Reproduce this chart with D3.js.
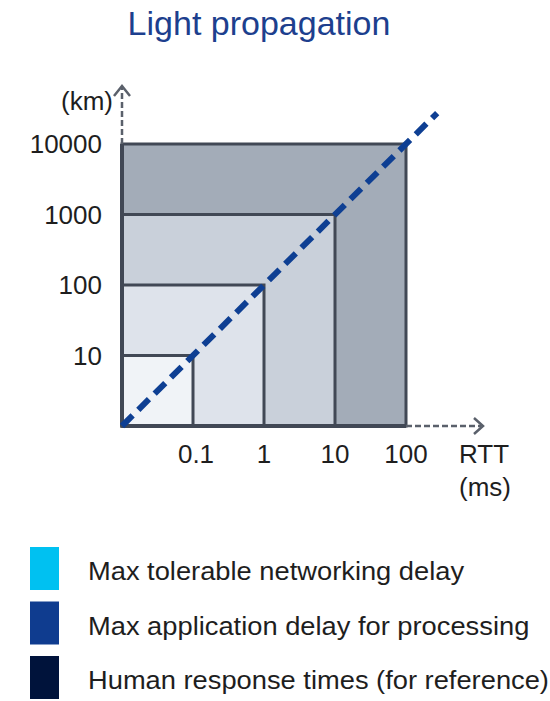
<!DOCTYPE html>
<html><head><meta charset="utf-8">
<script src="https://cdn.jsdelivr.net/npm/d3@7"></script>
<style>
html,body{margin:0;padding:0;background:#fff;}
svg{display:block;font-family:"Liberation Sans",Arial,sans-serif;}
</style></head>
<body>
<svg id="chart" width="550" height="701"></svg>
<script>
// ---- data ----
const title = "Light propagation";
const rttTicks = [0.1, 1, 10, 100];            // ms
const rttTickLabels = ["0.1", "1", "10", "100"];
const distTicks = [10, 100, 1000, 10000];     // km
const distTickLabels = ["10", "100", "1000", "10000"];
const zoneRtt = [100, 10, 1, 0.1];             // nested zones, largest first
const zoneDist = [10000, 1000, 100, 10];
const zoneFills = ["#a3acb8", "#c9d0da", "#dee3eb", "#f0f3f7"];
const lightLine = [[0.01, 1], [275, 27500]];   // distance ~ RTT (light in fibre)
const legendLabels = ["Max tolerable networking delay", "Max application delay for processing", "Human response times (for reference)"];
const legendColors = ["#00c1f1", "#0f3c8f", "#00133b"];

const svg = d3.select("#chart");
const x = d3.scaleLog().domain([0.01, 100]).range([122, 406]);
const y = d3.scaleLog().domain([1, 10000]).range([426, 144]);

// title
svg.append("text").attr("x", 259).attr("y", 35).attr("text-anchor", "middle")
  .attr("font-size", 34).attr("fill", "#1d3f8e").text(title);

// zones
svg.append("g").selectAll("rect").data(zoneRtt).join("rect")
  .attr("x", x(0.01)).attr("y", (d, i) => y(zoneDist[i]))
  .attr("width", d => x(d) - x(0.01))
  .attr("height", (d, i) => y(1) - y(zoneDist[i]))
  .attr("fill", (d, i) => zoneFills[i])
  .attr("stroke", "#414855").attr("stroke-width", 3);

// axis extensions (dashed) with arrows
const axisCol = "#5a606b";
svg.append("line").attr("x1", x(0.01)).attr("x2", x(0.01))
  .attr("y1", y(10000)).attr("y2", 88)
  .attr("stroke", axisCol).attr("stroke-width", 2.5).attr("stroke-dasharray", "6,3");
svg.append("path").attr("d", `M${x(0.01)-8},96 L${x(0.01)},86 L${x(0.01)+8},96`)
  .attr("fill", "none").attr("stroke", axisCol).attr("stroke-width", 2.5);
svg.append("line").attr("x1", x(100)).attr("x2", 481)
  .attr("y1", y(1)).attr("y2", y(1))
  .attr("stroke", axisCol).attr("stroke-width", 2.5).attr("stroke-dasharray", "6,3");
svg.append("path").attr("d", `M474,${y(1)-8} L483,${y(1)} L474,${y(1)+8}`)
  .attr("fill", "none").attr("stroke", axisCol).attr("stroke-width", 2.5);
// solid axis lines
svg.append("line").attr("x1", x(0.01)).attr("x2", x(100)).attr("y1", y(1)).attr("y2", y(1))
  .attr("stroke", "#414855").attr("stroke-width", 4);
svg.append("line").attr("x1", x(0.01)).attr("x2", x(0.01)).attr("y1", y(1)).attr("y2", y(10000))
  .attr("stroke", "#414855").attr("stroke-width", 4);

// light line
svg.append("path").datum(lightLine)
  .attr("d", d3.line().x(d => x(d[0])).y(d => y(d[1])))
  .attr("fill", "none").attr("stroke", "#0e3f93").attr("stroke-width", 6)
  .attr("stroke-dasharray", "15,8");

// tick labels
const tcol = "#1e1e1e";
svg.append("g").selectAll("text").data(rttTicks).join("text")
  .attr("x", (d, i) => x(d) + (i === 0 ? 3 : 0)).attr("y", 463).attr("text-anchor", "middle")
  .attr("font-size", 26).attr("fill", tcol).text((d, i) => rttTickLabels[i]);
svg.append("g").selectAll("text").data(distTicks).join("text")
  .attr("x", 102).attr("y", d => y(d) + 9).attr("text-anchor", "end")
  .attr("font-size", 26).attr("fill", tcol).text((d, i) => distTickLabels[i]);

// axis titles
svg.append("text").attr("x", 459).attr("y", 463).attr("font-size", 26).attr("fill", tcol).text("RTT");
svg.append("text").attr("x", 459).attr("y", 496).attr("font-size", 26).attr("fill", tcol).text("(ms)");
svg.append("text").attr("x", 113).attr("y", 110).attr("text-anchor", "end").attr("font-size", 26).attr("fill", tcol).text("(km)");

// legend
const lg = svg.append("g").selectAll("g").data(legendLabels).join("g")
  .attr("transform", (d, i) => `translate(30,${547 + i * 54.5})`);
lg.append("rect").attr("width", 29).attr("height", 43).attr("fill", (d, i) => legendColors[i]);
lg.append("text").attr("transform", "translate(58,33) scale(1.05,1)")
  .attr("font-size", 26).attr("fill", tcol).text(d => d);
</script>
</body></html>
